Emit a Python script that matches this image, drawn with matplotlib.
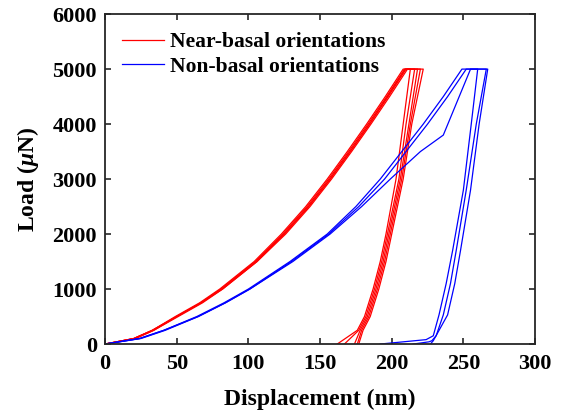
import matplotlib
matplotlib.use('Agg')
import matplotlib.pyplot as plt

# ---- data (displacement nm, load uN) ----
# near-basal orientations (red): loading, hold at 5000, unloading
red_P = [0, 100, 250, 500, 750, 1000, 1500, 2000, 2500, 3000, 3500, 4000, 4500, 5000,
         5000, 4000, 3000, 2000, 1500, 1000, 500, 250, 0]
r1_h = [0, 20, 33, 49, 66, 80, 104, 123, 140, 155, 169, 182.5, 195.5, 208,
        213, 208, 203, 196, 192, 187, 181, 176, 162]
r2_h = [0, 20, 33, 50, 67, 81, 105, 124, 141, 156, 170, 183.5, 196.5, 209,
        216, 210, 205, 197, 193, 188, 182, 177, 167]
r3_h = [0, 21, 34, 50, 67, 82, 106, 125, 142, 157, 171, 184.5, 197.5, 210,
        218, 212, 206, 198, 194, 189, 183, 178, 174]
r4_h = [0, 21, 34, 51, 68, 82, 106, 126, 143, 158, 172, 185.5, 198.5, 211,
        220, 213, 207, 199, 195, 190, 184, 179, 176]
r5_h = [0, 20, 33, 50, 67, 81, 105, 125, 142, 157, 171, 184.5, 197, 209.5,
        222, 214, 208, 200, 196, 191, 185, 180, 177]

# non-basal orientations (blue)
b1_h = [0, 24, 41, 64, 83, 100, 129, 155, 175, 192, 207, 222, 236, 249,
        260, 255.5, 250, 242.5, 238, 233, 229, 224, 212, 192]
b1_P = [0, 100, 250, 500, 750, 1000, 1500, 2000, 2500, 3000, 3500, 4000, 4500, 5000,
        5000, 4000, 2800, 1700, 1100, 530, 150, 80, 50, 0]
b2_h = [0, 24, 41, 65, 84, 101, 130, 156, 177, 195, 210, 225, 239, 252,
        266, 259, 252, 245, 241, 236, 231, 228, 226, 215]
b2_P = [0, 100, 250, 500, 750, 1000, 1500, 2000, 2500, 3000, 3500, 4000, 4500, 5000,
        5000, 4000, 2800, 1700, 1100, 530, 150, 60, 40, 0]
b3_h = [0, 25, 42, 65, 84, 101, 131, 157, 179, 199, 220, 236, 255,
        267, 261, 255, 248, 244, 239, 229, 227]
b3_P = [0, 100, 250, 500, 750, 1000, 1500, 2000, 2500, 3000, 3500, 3800, 5000,
        5000, 4000, 2800, 1700, 1100, 530, 60, 0]

x_ticks = [0, 50, 100, 150, 200, 250, 300]
y_ticks = [0, 1000, 2000, 3000, 4000, 5000, 6000]

plt.rcParams['font.family'] = 'Liberation Serif'
plt.rcParams['font.weight'] = 'bold'
plt.rcParams['mathtext.fontset'] = 'custom'
plt.rcParams['mathtext.it'] = 'Liberation Serif:italic:bold'
plt.rcParams['mathtext.rm'] = 'Liberation Serif:bold'

fig = plt.figure(figsize=(5.62, 4.15), dpi=100)
ax = fig.add_axes([0.187, 0.171, 0.765, 0.795])

lw = 0.9
for i, h in enumerate([r1_h, r2_h, r3_h, r4_h, r5_h]):
    ax.plot(h, red_P, color='#ff0000', lw=lw,
            label='Near-basal orientations' if i == 0 else None)
for i, (h, P) in enumerate([(b1_h, b1_P), (b2_h, b2_P), (b3_h, b3_P)]):
    ax.plot(h, P, color='#0000ff', lw=lw,
            label='Non-basal orientations' if i == 0 else None)

ax.set_xlim(0, 300)
ax.set_ylim(0, 6000)
ax.set_xticks(x_ticks)
ax.set_yticks(y_ticks)
ax.tick_params(direction='in', length=4, width=1.2, labelsize=16,
               top=True, right=True, color='#262626')
ax.tick_params(axis='x', pad=7)
ax.tick_params(axis='y', pad=6)
for s in ax.spines.values():
    s.set_linewidth(1.3)
    s.set_color('#262626')

ax.set_xlabel('Displacement (nm)', fontsize=17, fontweight='bold', labelpad=11)
ax.set_ylabel(r'Load ($\mu$N)', fontsize=17, fontweight='bold', labelpad=8)

ax.legend(loc='upper left', bbox_to_anchor=(0.01, 0.985), frameon=False,
          fontsize=15.5, handlelength=1.95, handletextpad=0.25, labelspacing=0.22,
          borderaxespad=0.2)

fig.savefig('out.png', dpi=100)
